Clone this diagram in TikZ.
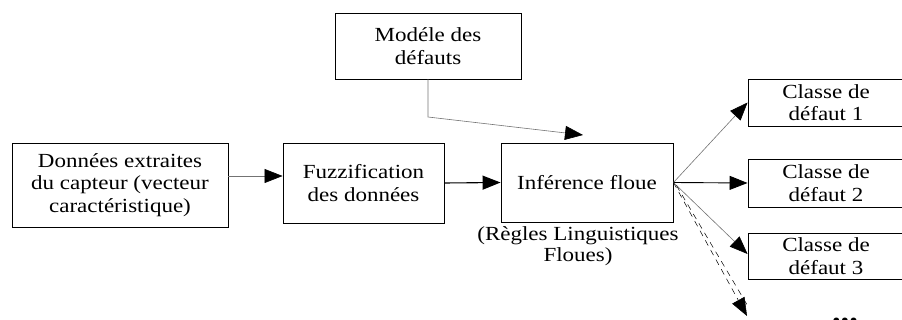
\documentclass[tikz,border=0pt]{standalone}
\usepackage{fontspec}
\setmainfont{Liberation Serif}[FakeStretch=1.15]
\usetikzlibrary{arrows.meta}
\tikzset{
  box/.style={draw=black, line width=0.9pt, inner sep=0pt, align=center,
    font=\fontsize{20}{22.5}\selectfont},
  lbl/.style={inner sep=0pt, align=center, font=\fontsize{20}{21}\selectfont},
  tip/.style={-{Triangle[length=18pt,width=14pt,color=black]}},
  thinlink/.style={tip, draw=black!55, line width=0.6pt},
  boldlink/.style={tip, draw=black, line width=1.1pt},
  dashline/.style={draw=black, line width=0.5pt, dash pattern=on 6pt off 5pt},
  dashlink/.style={tip, dashline}
}
\begin{document}
\begin{tikzpicture}[x=1pt,y=-1pt]
  \useasboundingbox (0,0) rectangle (902,320);
  \clip (0,0) rectangle (902,320);
  % processing chain
  \node[box, minimum width=216pt, minimum height=84pt] (src) at (120,185)
    {Données extraites\\du capteur (vecteur\\caractéristique)};
  \node[box, minimum width=161pt, minimum height=80pt] (fuzz) at (363.5,183)
    {Fuzzification\\des données};
  \node[box, minimum width=186pt, minimum height=66pt] (model) at (428,46)
    {Modéle des\\défauts};
  \node[box, minimum width=172pt, minimum height=79pt] (inf) at (587,182.5)
    {Inférence floue};
  \node[lbl] (rules) at (578,246) {(Règles Linguistiques\\Floues)};
  % output classes
  \node[box, minimum width=156pt, minimum height=47pt] (c1) at (826,102.5)
    {Classe de\\défaut 1};
  \node[box, minimum width=156pt, minimum height=48pt] (c2) at (826,183)
    {Classe de\\défaut 2};
  \node[box, minimum width=156pt, minimum height=46pt] (c3) at (826,256)
    {Classe de\\défaut 3};
  \node[inner sep=0pt, anchor=base, font=\fontsize{30}{30}\bfseries\selectfont] (more) at (845,323) {...};
  % connectors
  \coordinate (modelbend) at (428,117);
  \coordinate (modelend) at (583,135);
  \coordinate (nextend) at (747,316);
  \draw[thinlink] ([yshift=9pt]src.east) -- ([yshift=7pt]fuzz.west);
  \draw[boldlink] (fuzz.east) -- (inf.west);
  \draw[thinlink] (model.south) -- (modelbend) -- (modelend);
  \draw[thinlink] (inf.east) -- (c1.west);
  \draw[boldlink, line width=0.9pt] (inf.east) -- (c2.west);
  \draw[thinlink] (inf.east) -- ([yshift=2pt]c3.west);
  \draw[dashlink] (inf.east) -- (nextend);
  \draw[dashline] ([xshift=3pt,yshift=-3pt]inf.east) -- ([xshift=2pt,yshift=8pt]nextend);
\end{tikzpicture}
\end{document}
